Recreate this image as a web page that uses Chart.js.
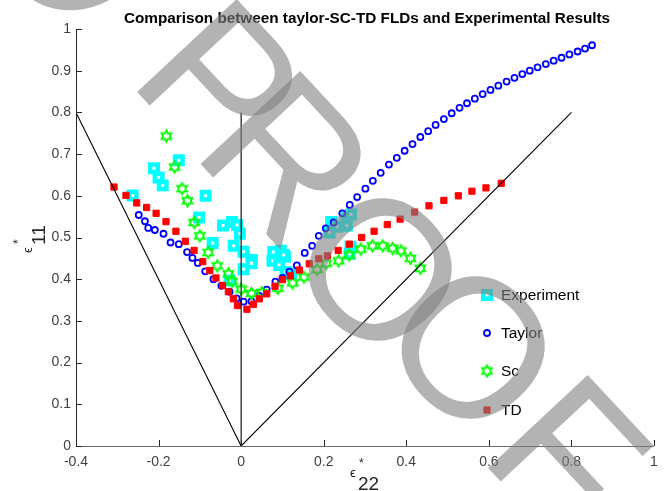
<!DOCTYPE html>
<html><head><meta charset="utf-8">
<script src="https://cdn.jsdelivr.net/npm/chart.js@4.4.0/dist/chart.umd.min.js"></script>
<style>html,body{margin:0;padding:0;background:#fff;}#wrap{width:667px;height:491px;}</style>
</head><body><div id="wrap"><canvas id="c" width="667" height="491"></canvas></div>
<script>
// ---------- data ----------
const titleText = 'Comparison between taylor-SC-TD FLDs and Experimental Results';
const seriesNames = ['Experiment', 'Taylor', 'Sc', 'TD'];
const xTickValues = [-0.4, -0.2, 0, 0.2, 0.4, 0.6, 0.8, 1];
const xTickLabels = ['-0.4', '-0.2', '0', '0.2', '0.4', '0.6', '0.8', '1'];
const yTickValues = [0, 0.1, 0.2, 0.3, 0.4, 0.5, 0.6, 0.7, 0.8, 0.9, 1];
const yTickLabels = ['0', '0.1', '0.2', '0.3', '0.4', '0.5', '0.6', '0.7', '0.8', '0.9', '1'];

const experimentX = [-0.263,-0.211,-0.200,-0.190,-0.151,-0.086,-0.102,-0.069,-0.044,-0.022,-0.010,-0.003,-0.018,0.006,0.026,0.025,0.006,-0.028,0.078,0.096,0.106,0.076,0.092,0.108,0.121,0.103,0.218,0.214,0.232,0.255,0.266,0.256,0.265,0.263];
const experimentY = [0.601,0.666,0.644,0.625,0.685,0.600,0.548,0.487,0.529,0.537,0.530,0.509,0.480,0.466,0.446,0.438,0.424,0.397,0.465,0.468,0.454,0.444,0.434,0.417,0.413,0.458,0.537,0.512,0.526,0.548,0.555,0.528,0.478,0.461];

const taylorX = [-0.248,-0.233,-0.225,-0.209,-0.188,-0.171,-0.151,-0.131,-0.118,-0.105,-0.087,-0.067,-0.048,-0.028,-0.011,0.006,0.025,0.044,0.062,0.083,0.100,0.117,0.135,0.154,0.172,0.188,0.205,0.224,0.245,0.263,0.281,0.301,0.319,0.338,0.358,0.377,0.396,0.415,0.434,0.453,0.471,0.491,0.510,0.529,0.547,0.566,0.585,0.604,0.623,0.643,0.662,0.681,0.699,0.718,0.738,0.757,0.776,0.795,0.815,0.833,0.850];
const taylorY = [0.554,0.539,0.523,0.518,0.509,0.488,0.484,0.465,0.451,0.439,0.419,0.400,0.384,0.370,0.354,0.346,0.347,0.360,0.375,0.394,0.403,0.418,0.433,0.463,0.480,0.504,0.522,0.536,0.558,0.578,0.597,0.617,0.636,0.655,0.675,0.691,0.708,0.724,0.741,0.755,0.770,0.784,0.798,0.811,0.822,0.833,0.844,0.854,0.864,0.874,0.883,0.892,0.900,0.908,0.916,0.924,0.931,0.939,0.946,0.953,0.961];

const scX = [-0.181,-0.161,-0.143,-0.130,-0.114,-0.100,-0.080,-0.058,-0.031,-0.022,0.000,0.025,0.050,0.089,0.125,0.152,0.184,0.206,0.236,0.262,0.290,0.318,0.343,0.367,0.387,0.410,0.434];
const scY = [0.743,0.669,0.617,0.588,0.536,0.504,0.464,0.432,0.413,0.395,0.376,0.366,0.368,0.378,0.391,0.405,0.423,0.438,0.444,0.458,0.472,0.480,0.480,0.474,0.468,0.450,0.426];

const tdX = [-0.308,-0.279,-0.253,-0.229,-0.206,-0.182,-0.158,-0.135,-0.114,-0.093,-0.076,-0.061,-0.045,-0.031,-0.019,-0.009,0.014,0.030,0.044,0.062,0.082,0.100,0.119,0.141,0.165,0.188,0.209,0.235,0.262,0.292,0.322,0.354,0.385,0.420,0.455,0.491,0.526,0.559,0.593,0.630];
const tdY = [0.621,0.601,0.583,0.572,0.558,0.538,0.515,0.491,0.469,0.442,0.421,0.403,0.385,0.370,0.353,0.337,0.328,0.340,0.353,0.365,0.383,0.399,0.408,0.422,0.437,0.449,0.456,0.469,0.484,0.500,0.515,0.531,0.544,0.561,0.576,0.589,0.600,0.611,0.619,0.630];

// reference lines (limit-strain guides)
const guideVX = [-0.4, 0, 0.8];
const guideVY = [0.8, 0, 0.8];
const guideMidX = [0, 0];
const guideMidY = [0, 0.8];

const watermarkLetters = ['P', 'R', 'O', 'O', 'F'];

// ---------- helpers ----------
const pts = (xs, ys) => xs.map((x, i) => ({x, y: ys[i]}));
const FONT = "'Liberation Sans', Arial, sans-serif";

function makeHexagram(R, lw, color) {
  const s = Math.ceil(2 * R + 2 * lw + 2);
  const c = document.createElement('canvas');
  c.width = s; c.height = s;
  const g = c.getContext('2d');
  const cx = s / 2, cy = s / 2;
  g.beginPath();
  for (let k = 0; k < 12; k++) {
    const a = -Math.PI / 2 + k * Math.PI / 6;
    const r = (k % 2 === 0) ? R : R / Math.sqrt(3);
    const px = cx + r * Math.cos(a), py = cy + r * Math.sin(a);
    if (k === 0) g.moveTo(px, py); else g.lineTo(px, py);
  }
  g.closePath();
  g.lineWidth = lw;
  g.strokeStyle = color;
  g.lineJoin = 'miter';
  g.stroke();
  return c;
}
const hexStar = makeHexagram(5.6, 1.9, '#00ff00');

const styles = {
  Experiment: {pointStyle: 'rect', pointRadius: 5.3, borderWidth: 4.5, borderColor: '#00ffff', backgroundColor: '#ffffff'},
  Taylor: {pointStyle: 'circle', pointRadius: 3.0, borderWidth: 1.8, borderColor: '#0000ff', backgroundColor: 'rgba(0,0,0,0)'},
  Sc: {pointStyle: hexStar, pointRadius: 6, borderWidth: 0, borderColor: '#00ff00', backgroundColor: 'rgba(0,0,0,0)'},
  TD: {pointStyle: 'rect', pointRadius: 4.4, borderWidth: 1, borderColor: '#ff0000', backgroundColor: '#ff0000'}
};

function scatterSet(name, xs, ys, order) {
  const s = styles[name];
  return {
    label: name, data: pts(xs, ys), order: order, showLine: false,
    pointStyle: s.pointStyle, pointRadius: s.pointRadius, pointHoverRadius: s.pointRadius,
    pointBorderWidth: s.borderWidth, pointBorderColor: s.borderColor, pointBackgroundColor: s.backgroundColor,
    borderColor: s.borderColor, backgroundColor: s.backgroundColor, clip: false
  };
}
function lineSet(xs, ys) {
  return {label: '_guide', data: pts(xs, ys), order: 0, showLine: true, pointRadius: 0,
    borderColor: '#000000', borderWidth: 1.1, backgroundColor: '#000', tension: 0, fill: false};
}

// ---------- plugins ----------
const decorPlugin = {
  id: 'decor',
  afterDraw(chart) {
    const ctx = chart.ctx, a = chart.chartArea;
    const xs = chart.scales.x, ys = chart.scales.y;
    ctx.save();
    // axis lines
    ctx.lineWidth = 1;
    ctx.strokeStyle = '#262626';
    ctx.beginPath(); ctx.moveTo(Math.round(a.left) + 0.5, a.top); ctx.lineTo(Math.round(a.left) + 0.5, a.bottom); ctx.stroke();
    ctx.strokeStyle = '#6a6a6a';
    ctx.beginPath(); ctx.moveTo(a.left, Math.round(a.bottom) + 0.5); ctx.lineTo(a.right, Math.round(a.bottom) + 0.5); ctx.stroke();
    // inward ticks
    ctx.strokeStyle = '#262626';
    xTickValues.forEach(v => {
      const px = Math.round(xs.getPixelForValue(v)) + 0.5;
      ctx.beginPath(); ctx.moveTo(px, a.bottom); ctx.lineTo(px, a.bottom - 6); ctx.stroke();
    });
    yTickValues.forEach(v => {
      const py = Math.round(ys.getPixelForValue(v)) + 0.5;
      ctx.beginPath(); ctx.moveTo(a.left, py); ctx.lineTo(a.left + 6, py); ctx.stroke();
    });
    // title
    ctx.fillStyle = '#000';
    ctx.font = 'bold 15.3px ' + FONT;
    ctx.textAlign = 'center'; ctx.textBaseline = 'middle';
    ctx.fillText(titleText, 367, 19);
    // axis labels: epsilon*_22 and epsilon*_11
    ctx.fillStyle = '#262626';
    ctx.textAlign = 'left'; ctx.textBaseline = 'alphabetic';
    const drawLabel = (sub) => {
      ctx.font = '12px ' + FONT;
      ctx.fillText('*', -3, 5);
      ctx.font = '13px ' + FONT;
      ctx.fillText('\u03F5', -12, 15);
      ctx.font = '19px ' + FONT;
      ctx.fillText(sub, -4, 28);
    };
    ctx.save(); ctx.translate(362, 462); drawLabel('22'); ctx.restore();
    ctx.save(); ctx.translate(17, 241); ctx.rotate(-Math.PI / 2); drawLabel('11'); ctx.restore();
    // legend
    const legY = [295, 333, 371, 410];
    seriesNames.forEach((name, i) => {
      const s = styles[name];
      const mx = 487, my = legY[i];
      if (s.pointStyle === 'rect') {
        const h = s.pointRadius * Math.SQRT1_2;
        ctx.fillStyle = s.backgroundColor;
        ctx.fillRect(mx - h, my - h, 2 * h, 2 * h);
        ctx.lineWidth = s.borderWidth; ctx.strokeStyle = s.borderColor;
        ctx.strokeRect(mx - h, my - h, 2 * h, 2 * h);
      } else if (s.pointStyle === 'circle') {
        ctx.lineWidth = s.borderWidth; ctx.strokeStyle = s.borderColor;
        ctx.beginPath(); ctx.arc(mx, my, s.pointRadius, 0, Math.PI * 2); ctx.stroke();
      } else {
        ctx.drawImage(s.pointStyle, mx - s.pointStyle.width / 2, my - s.pointStyle.height / 2);
      }
      ctx.fillStyle = '#000';
      ctx.font = '15.5px ' + FONT;
      ctx.textAlign = 'left'; ctx.textBaseline = 'middle';
      ctx.fillText(name, 501, my + 1);
    });
    // watermark (letters placed individually along a 47 degree diagonal)
    const wmCenters = [[223, 80], [290, 156], [382, 268], [475, 346], [570, 452]];
    const wmSize = 198, wmAngle = 47 * Math.PI / 180;
    const grey = 'rgba(128,128,128,0.6)';
    ctx.fillStyle = grey;
    ctx.font = wmSize + 'px ' + FONT;
    ctx.textAlign = 'center'; ctx.textBaseline = 'alphabetic';
    watermarkLetters.forEach((ch, i) => {
      ctx.save();
      ctx.translate(wmCenters[i][0], wmCenters[i][1]);
      ctx.rotate(wmAngle);
      ctx.fillText(ch, 0, wmSize * 0.358);
      ctx.restore();
    });
    // edge of a preceding glyph, cut by the top border
    ctx.save();
    ctx.strokeStyle = grey; ctx.lineWidth = 17;
    ctx.beginPath();
    ctx.ellipse(78, -64, 62, 70, wmAngle, 0, Math.PI * 2);
    ctx.stroke();
    ctx.restore();
    ctx.restore();
  }
};

// ---------- chart ----------
const chart = new Chart(document.getElementById('c'), {
  type: 'scatter',
  data: {
    datasets: [
      lineSet(guideVX, guideVY),
      lineSet(guideMidX, guideMidY),
      scatterSet('TD', tdX, tdY, 1),
      scatterSet('Sc', scX, scY, 2),
      scatterSet('Taylor', taylorX, taylorY, 3),
      scatterSet('Experiment', experimentX, experimentY, 4)
    ]
  },
  options: {
    responsive: false, animation: false, devicePixelRatio: 1,
    events: [],
    layout: {padding: {top: 29, right: 13, left: 0, bottom: 0}},
    plugins: {legend: {display: false}, title: {display: false}, tooltip: {enabled: false}},
    scales: {
      x: {
        type: 'linear', min: -0.4, max: 1,
        afterBuildTicks: s => { s.ticks = xTickValues.map(v => ({value: v})); },
        afterFit: s => { s.height = 45; },
        grid: {display: false, drawTicks: false}, border: {display: false},
        ticks: {callback: (v, i) => xTickLabels[i], color: '#404040', font: {family: FONT, size: 14}, padding: 8, maxRotation: 0, autoSkip: false}
      },
      y: {
        type: 'linear', min: 0, max: 1,
        afterBuildTicks: s => { s.ticks = yTickValues.map(v => ({value: v})); },
        afterFit: s => { s.width = 76; },
        grid: {display: false, drawTicks: false}, border: {display: false},
        ticks: {callback: (v, i) => yTickLabels[i], color: '#404040', font: {family: FONT, size: 14}, padding: 5, autoSkip: false}
      }
    }
  },
  plugins: [decorPlugin]
});
</script></body></html>
